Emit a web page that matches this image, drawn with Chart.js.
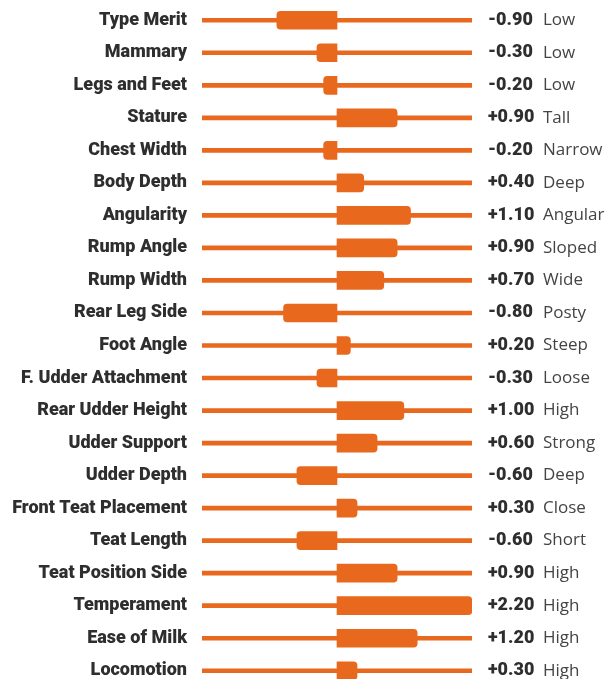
<!DOCTYPE html>
<html>
<head>
<meta charset="utf-8">
<script src="https://cdn.jsdelivr.net/npm/chart.js@4"></script>
<style>
  html, body { margin: 0; padding: 0; background: #fff; overflow: hidden; }
  #wrap { width: 606px; height: 687px; position: relative; }
</style>
</head>
<body>
<div id="wrap"><canvas id="chart"></canvas></div>
<script>
const traits = ['Type Merit', 'Mammary', 'Legs and Feet', 'Stature', 'Chest Width', 'Body Depth',
    'Angularity', 'Rump Angle', 'Rump Width', 'Rear Leg Side', 'Foot Angle', 'F. Udder Attachment',
    'Rear Udder Height', 'Udder Support', 'Udder Depth', 'Front Teat Placement', 'Teat Length',
    'Teat Position Side', 'Temperament', 'Ease of Milk', 'Locomotion'];
const values = [-0.9, -0.3, -0.2, 0.9, -0.2, 0.4, 1.1, 0.9, 0.7, -0.8, 0.2, -0.3,
    1.0, 0.6, -0.6, 0.3, -0.6, 0.9, 2.2, 1.2, 0.3];
const descriptors = ['Low', 'Low', 'Low', 'Tall', 'Narrow', 'Deep', 'Angular', 'Sloped', 'Wide',
    'Posty', 'Steep', 'Loose', 'High', 'Strong', 'Deep', 'Close', 'Short', 'High', 'High', 'High', 'High'];
const axisMin = -2.02;
const axisMax = 2.02;

const orange = '#e8691e';
const valueLabels = values.map(v => (v >= 0 ? '+' : '') + v.toFixed(2));
// bars stop at the end of the track
const barValues = values.map(v => Math.max(axisMin, Math.min(axisMax, v)));

// fixed widths for the side columns, and no extra label padding top/bottom
const fixWidth = (w) => (scale) => {
    scale.width = w;
    scale.paddingTop = 0;
    scale.paddingBottom = 0;
};

const sideAxis = (extra) => Object.assign({
    type: 'category',
    offset: true,
    grid: { display: false, drawTicks: false },
    border: { display: false },
}, extra);

new Chart(document.getElementById('chart'), {
    type: 'bar',
    data: {
        labels: traits,
        datasets: [{
            data: barValues,
            backgroundColor: orange,
            barThickness: 18,
            borderRadius: 4,
            borderSkipped: 'start',
            grouped: false,
        }, {
            // thin track behind each bar
            data: traits.map(() => [axisMin, axisMax]),
            backgroundColor: orange,
            barThickness: 4,
            borderSkipped: false,
            grouped: false,
        }],
    },
    options: {
        indexAxis: 'y',
        responsive: true,
        maintainAspectRatio: false,
        animation: false,
        layout: { padding: { top: 4, left: 0, right: 0, bottom: 0 } },
        plugins: { legend: { display: false }, tooltip: { enabled: false } },
        scales: {
            x: { display: false, min: axisMin, max: axisMax },
            y: sideAxis({
                ticks: {
                    color: '#2e2e2e',
                    padding: 15,
                    font: { family: 'Roboto', weight: 900, size: 18 },
                },
                afterFit: fixWidth(202),
            }),
            yVal: sideAxis({
                position: 'right',
                labels: valueLabels,
                weight: 0,
                ticks: {
                    color: '#2e2e2e',
                    padding: 16,
                    crossAlign: 'near',
                    font: { family: 'Roboto', weight: 900, size: 18 },
                },
                afterFit: fixWidth(71),
            }),
            yDesc: sideAxis({
                position: 'right',
                labels: descriptors,
                weight: 1,
                ticks: {
                    color: '#444',
                    padding: 0,
                    crossAlign: 'near',
                    font: { family: 'Open Sans', size: 17 },
                },
                afterFit: fixWidth(63),
            }),
        },
    },
});
</script>
</body>
</html>
